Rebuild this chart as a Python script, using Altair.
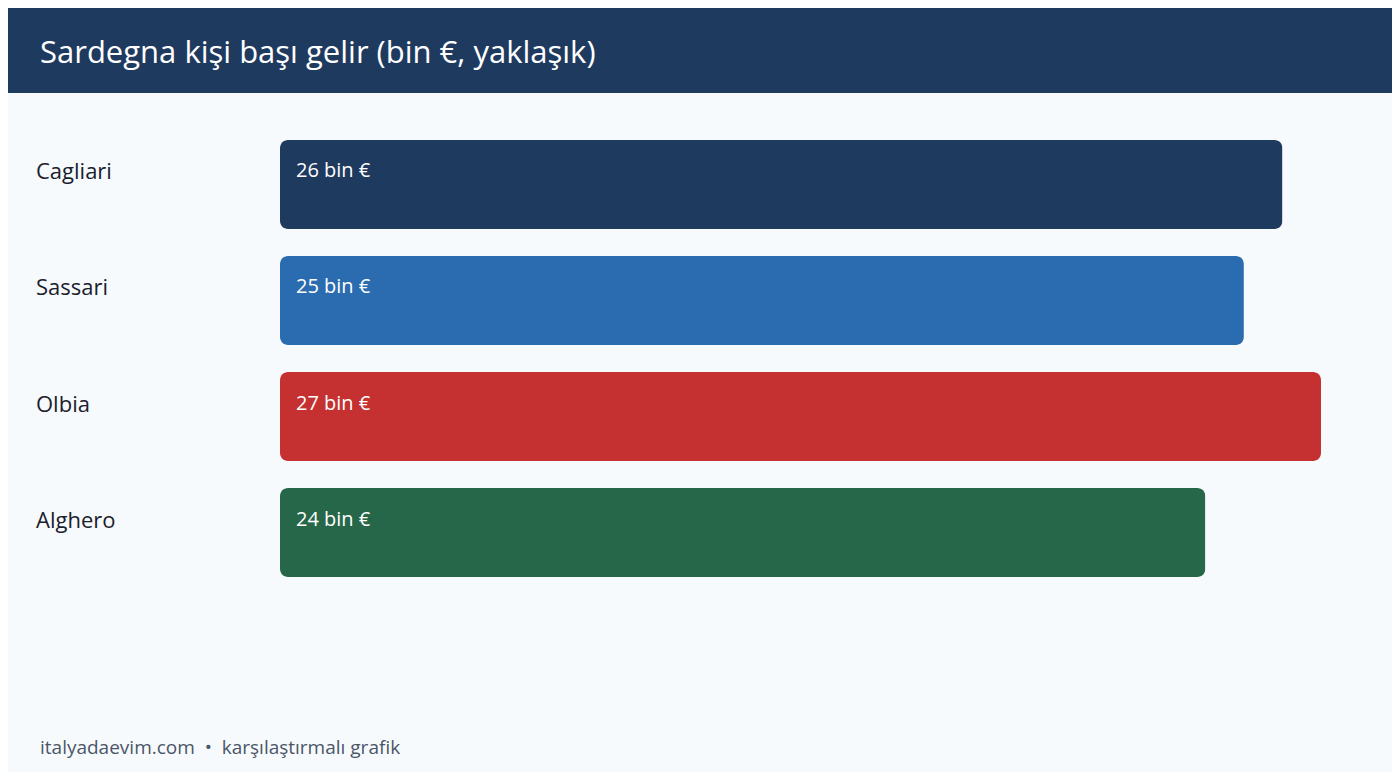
import altair as alt
import pandas as pd

cities = ["Cagliari", "Sassari", "Olbia", "Alghero"]
values = [26, 25, 27, 24]
labels = ["26 bin €", "25 bin €", "27 bin €", "24 bin €"]
colors = ["#1f3a5f", "#2b6cb0", "#c53030", "#276749"]
title_text = "Sardegna kişi başı gelir (bin €, yaklaşık)"
footer_text = "italyadaevim.com\u00a0\u00a0•\u00a0\u00a0karşılaştırmalı grafik"

FONT = "Open Sans"
W, H = 1384, 764

df = pd.DataFrame({"city": cities, "value": values, "label": labels})
one = pd.DataFrame({"t": [title_text], "f": [footer_text]})

xscale = alt.Scale(domain=[0, 27], range=[272, 1313], nice=False, zero=True)
yscale = alt.Scale(domain=cities, range=[132, 569], paddingInner=0.2328, paddingOuter=0)
cscale = alt.Scale(domain=cities, range=colors)

header = alt.Chart(one).mark_rect(color="#1f3a5f").encode(
    x=alt.value(0), x2=alt.value(W), y=alt.value(0), y2=alt.value(85)
)
title = alt.Chart(one).mark_text(
    font=FONT, fontSize=31, color="white", align="left", baseline="middle"
).encode(x=alt.value(32), y=alt.value(46), text="t:N")

bars = alt.Chart(df).mark_bar(cornerRadius=8).encode(
    x=alt.X("value:Q", scale=xscale, axis=None),
    y=alt.Y("city:N", scale=yscale, sort=cities, axis=None),
    color=alt.Color("city:N", scale=cscale, legend=None),
)
vals = alt.Chart(df).mark_text(
    font=FONT, fontSize=20, color="white", align="left", baseline="middle", dx=16, dy=-13
).encode(
    x=alt.datum(0),
    y=alt.Y("city:N", scale=yscale, sort=cities, axis=None),
    text="label:N",
)
cats = alt.Chart(df).mark_text(
    font=FONT, fontSize=22, color="#1a202c", align="left", baseline="middle", dy=-12
).encode(
    x=alt.value(28),
    y=alt.Y("city:N", scale=yscale, sort=cities, axis=None),
    text="city:N",
)
footer = alt.Chart(one).mark_text(
    font=FONT, fontSize=19, color="#4a5568", align="left", baseline="middle"
).encode(x=alt.value(32), y=alt.value(740), text="f:N")

chart = alt.layer(header, title, bars, vals, cats, footer).properties(
    width=W, height=H, padding=0, autosize=alt.AutoSizeParams(type="none"),
    background="#f7fafc",
).configure_view(stroke=None)

chart.save("out.html", embed_options={"renderer": "svg", "actions": False})
